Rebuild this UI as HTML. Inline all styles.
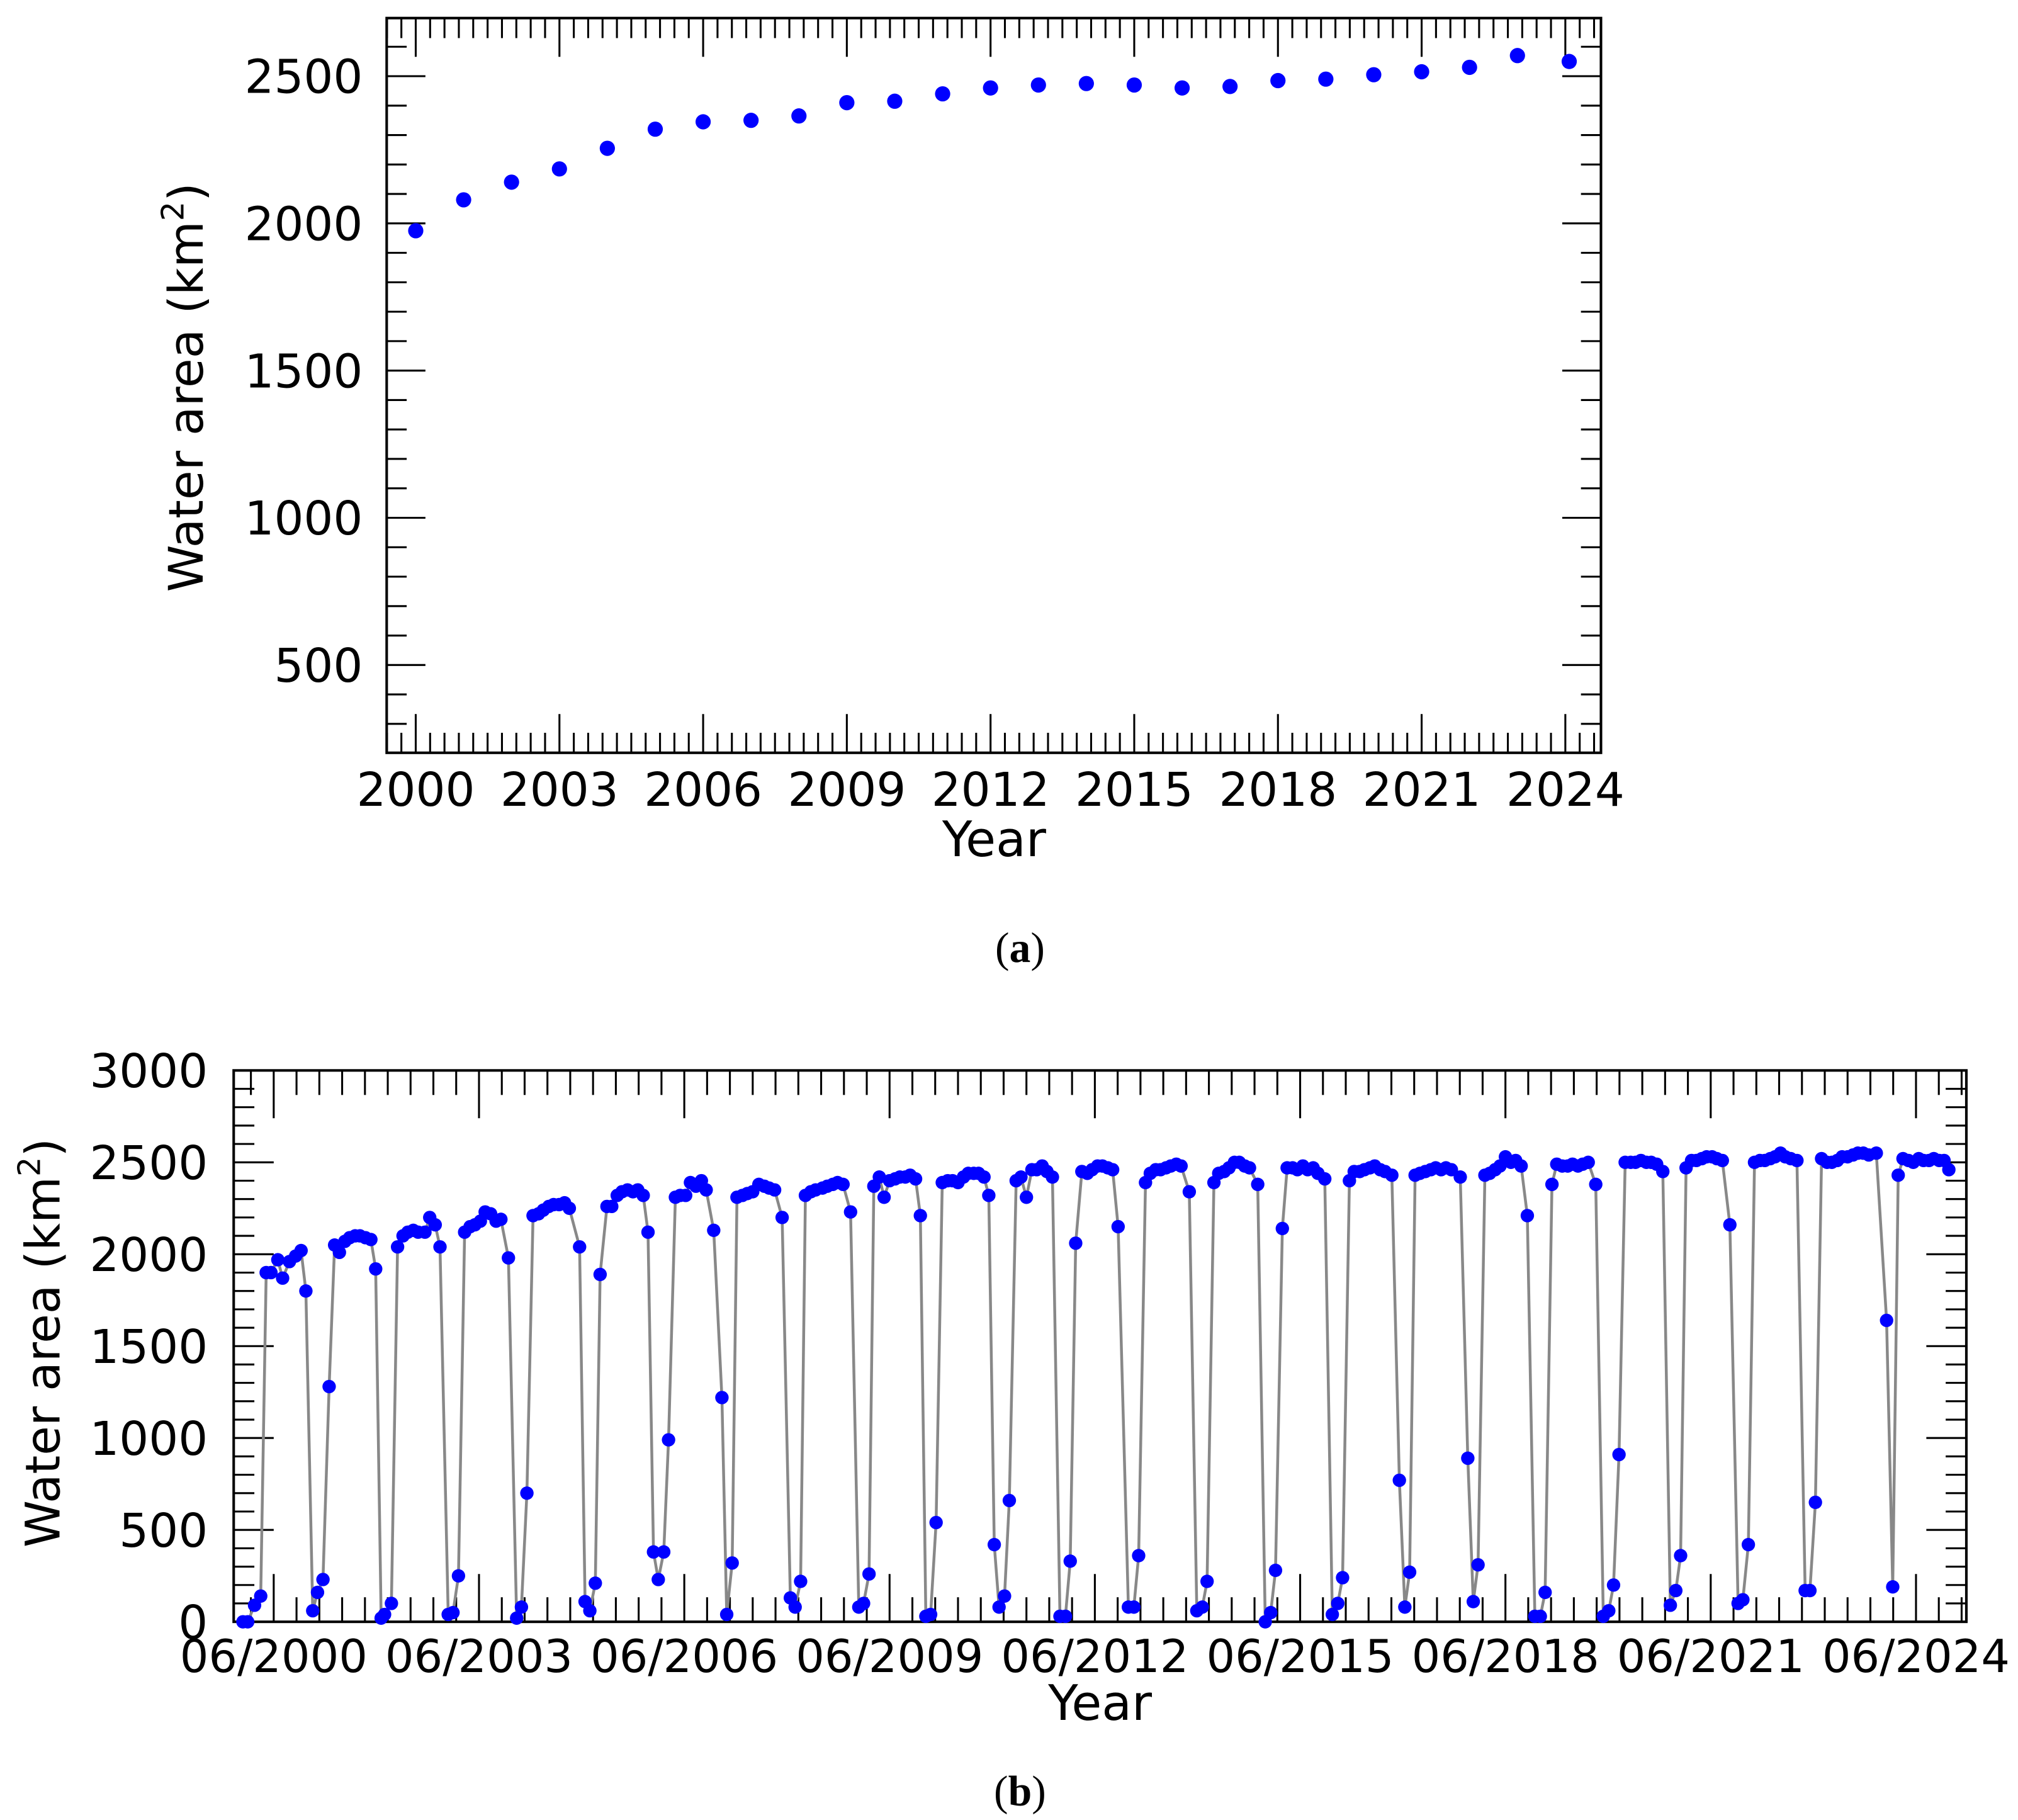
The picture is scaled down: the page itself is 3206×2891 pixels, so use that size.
<!DOCTYPE html>
<html><head><meta charset="utf-8"><style>
html,body{margin:0;padding:0;background:#fff;}
svg{display:block;font-family:"DejaVu Sans","Liberation Sans",sans-serif;}
</style></head><body>
<svg id="fig" width="3206" height="2891" viewBox="0 0 1563 1409.5" preserveAspectRatio="none" xmlns="http://www.w3.org/2000/svg">
<rect width="1563" height="1409.5" fill="#fff"/>
<g id="chartA"></g>
<g id="chartB"></g>
<text x="790" y="745" font-family="Liberation Serif, serif" font-size="33" text-anchor="middle">(<tspan font-weight="bold">a</tspan>)</text>
<text x="790" y="1398" font-family="Liberation Serif, serif" font-size="33" text-anchor="middle">(<tspan font-weight="bold">b</tspan>)</text>
</svg>
<script>
// ---- Chart A data ----
const yearsA = [2000,2001,2002,2003,2004,2005,2006,2007,2008,2009,2010,2011,2012,2013,2014,2015,2016,2017,2018,2019,2020,2021,2022,2023,2024];
const areaA = [1975,2080,2140,2185,2255,2320,2345,2350,2365,2410,2415,2440,2460,2470,2475,2470,2460,2465,2485,2490,2505,2515,2530,2570,2550];
const xTicksA = [2000,2003,2006,2009,2012,2015,2018,2021,2024];
const yTicksA = [500,1000,1500,2000,2500];

// ---- Chart B data (years since 2000, area km2) ----
const timeB = [-0.03,0.04,0.14,0.23,0.31,0.38,0.48,0.55,0.65,0.74,0.82,0.89,0.99,1.06,1.14,1.23,1.31,1.38,1.46,1.53,1.61,1.68,1.76,1.84,1.91,1.99,2.04,2.14,2.23,2.31,2.38,2.46,2.53,2.63,2.70,2.78,2.85,2.97,3.04,3.12,3.21,3.29,3.36,3.44,3.51,3.59,3.67,3.74,3.85,3.97,4.04,4.12,4.21,4.29,4.36,4.44,4.51,4.59,4.67,4.74,4.89,4.97,5.04,5.12,5.19,5.29,5.36,5.44,5.51,5.59,5.67,5.74,5.82,5.89,5.97,6.04,6.12,6.19,6.29,6.36,6.44,6.51,6.59,6.67,6.74,6.85,6.97,7.04,7.12,7.19,7.27,7.34,7.42,7.51,7.59,7.66,7.74,7.85,7.97,8.04,8.12,8.19,8.27,8.34,8.44,8.51,8.59,8.66,8.74,8.85,8.97,9.04,9.12,9.19,9.27,9.34,9.42,9.50,9.57,9.65,9.72,9.80,9.87,9.95,10.02,10.10,10.19,10.27,10.34,10.42,10.50,10.57,10.65,10.72,10.80,10.87,10.95,11.02,11.10,11.17,11.27,11.34,11.42,11.50,11.57,11.65,11.72,11.80,11.91,11.99,12.06,12.14,12.23,12.31,12.38,12.46,12.53,12.61,12.68,12.76,12.91,12.99,13.06,13.16,13.23,13.31,13.38,13.46,13.53,13.61,13.68,13.80,13.91,13.99,14.06,14.16,14.23,14.31,14.38,14.46,14.53,14.61,14.68,14.80,14.91,14.99,15.06,15.16,15.23,15.31,15.38,15.46,15.53,15.61,15.68,15.78,15.89,15.97,16.04,16.14,16.21,16.29,16.36,16.44,16.51,16.59,16.66,16.76,16.87,16.95,17.02,17.10,17.17,17.25,17.33,17.40,17.48,17.55,17.63,17.76,17.87,17.95,18.02,18.12,18.19,18.27,18.34,18.42,18.50,18.57,18.65,18.74,18.85,18.93,19.00,19.10,19.17,19.25,19.33,19.40,19.48,19.55,19.63,19.74,19.85,19.93,20.00,20.08,20.17,20.25,20.32,20.40,20.48,20.55,20.63,20.72,20.83,20.91,20.98,21.06,21.14,21.21,21.29,21.36,21.44,21.51,21.59,21.70,21.82,21.89,21.97,22.06,22.14,22.21,22.29,22.36,22.44,22.51,22.59,22.68,22.80,22.87,22.95,23.04,23.12,23.19,23.27,23.34,23.42,23.50,23.57,23.65,23.73,23.84,23.99,24.08,24.16,24.23,24.31,24.38,24.46,24.53,24.61,24.68,24.76,24.83,24.90];
const areaB = [0,0,90,140,1900,1900,1970,1870,1960,1990,2020,1800,60,160,230,1280,2050,2010,2070,2090,2100,2100,2090,2080,1920,20,40,100,2040,2100,2120,2130,2120,2120,2200,2160,2040,40,50,250,2120,2150,2160,2180,2230,2220,2180,2190,1980,20,80,700,2210,2220,2240,2260,2270,2270,2280,2250,2040,110,60,210,1890,2260,2260,2320,2340,2350,2340,2350,2320,2120,380,230,380,990,2310,2320,2320,2390,2370,2400,2350,2130,1220,40,320,2310,2320,2330,2340,2380,2370,2360,2350,2200,130,80,220,2320,2340,2350,2360,2370,2380,2390,2380,2230,80,100,260,2370,2420,2310,2400,2410,2420,2420,2430,2410,2210,30,40,540,2390,2400,2400,2390,2420,2440,2440,2440,2420,2320,420,80,140,660,2400,2420,2310,2460,2460,2480,2450,2420,30,30,330,2060,2450,2440,2460,2480,2480,2470,2460,2150,80,80,360,2390,2440,2460,2460,2470,2480,2490,2480,2340,60,80,220,2390,2440,2450,2470,2500,2500,2480,2470,2380,0,50,280,2140,2470,2470,2460,2480,2460,2470,2440,2410,40,100,240,2400,2450,2450,2460,2470,2480,2460,2450,2430,770,80,270,2430,2440,2450,2460,2470,2460,2470,2460,2420,890,110,310,2430,2440,2460,2480,2530,2500,2510,2480,2210,30,30,160,2380,2490,2480,2480,2490,2480,2490,2500,2380,30,60,200,910,2500,2500,2500,2510,2500,2500,2490,2450,90,170,360,2470,2510,2510,2520,2530,2530,2520,2510,2160,100,120,420,2500,2510,2510,2520,2530,2550,2530,2520,2510,170,170,650,2520,2500,2500,2510,2530,2530,2540,2550,2550,2540,2550,1640,190,2430,2520,2510,2500,2520,2510,2510,2520,2510,2510,2460];
const xTickLabelsB = ["06/2000","06/2003","06/2006","06/2009","06/2012","06/2015","06/2018","06/2021","06/2024"];
const xTickTimesB = [0.42,3.42,6.42,9.42,12.42,15.42,18.42,21.42,24.42];
const yTicksB = [0,500,1000,1500,2000,2500,3000];

const NS = "http://www.w3.org/2000/svg";
function mk(parent, tag, attrs){const e=document.createElementNS(NS,tag);for(const k in attrs)e.setAttribute(k,attrs[k]);parent.appendChild(e);return e;}

// ---------- Chart A ----------
(function(){
  const g=document.getElementById('chartA');
  const L=299.5,R=1240,T=14,B=583;
  const xA=y=>322+(y-2000)*37.1;
  const yA=v=>173-(v-2000)*0.228;
  const tk=mk(g,'g',{stroke:'#000','stroke-width':1.5});
  
  
  for(let y=1999.4;y<=2024.85;y+=0.3){
    const x=xA(y); if(x<L||x>R) continue;
    const major=xTicksA.some(t=>Math.abs(t-y)<0.01);
    const len=major?30:15.5;
    mk(tk,'line',{x1:x,x2:x,y1:B,y2:B-len});
    mk(tk,'line',{x1:x,x2:x,y1:T,y2:T+len});
  }
  for(let v=300;v<=2700;v+=100){
    const y=yA(v); if(y<T||y>B) continue;
    const major=v%500===0; const len=major?30:15.5;
    mk(tk,'line',{x1:L,x2:L+len,y1:y,y2:y});
    mk(tk,'line',{x1:R,x2:R-len,y1:y,y2:y});
  }
  const fr=mk(g,'rect',{x:L,y:T,width:R-L,height:B-T,fill:'none',stroke:'#000','stroke-width':2});
  
  
  xTicksA.forEach(t=>{
    const e=mk(g,'text',{x:xA(t),y:624,'font-size':36,'text-anchor':'middle'});
    
    
    e.textContent=t;
  });
  yTicksA.forEach(v=>{
    const e=mk(g,'text',{x:281,y:yA(v)+13,'font-size':36,'text-anchor':'end'});
    
    
    e.textContent=v;
  });
  const xt=mk(g,'text',{x:770,y:663,'font-size':38,'text-anchor':'middle'});
  
  
  xt.textContent='Year';
  const yt=mk(g,'text',{x:0,y:0,'font-size':37,'text-anchor':'middle',transform:'translate(157,300) rotate(-90)'});
  
  
  yt.innerHTML='Water area (km<tspan dy="-15" font-size="24">2</tspan><tspan dy="15">)</tspan>';
  yearsA.forEach((yr,i)=>{
    const c=mk(g,'circle',{cx:xA(yr)+(i===24?3:0),cy:yA(areaA[i]),r:5.9,fill:'#0000ff'});
    
    
  });
})();

// ---------- Chart B ----------
(function(){
  const g=document.getElementById('chartB');
  const L=181,R=1523,T=829,B=1256;
  const xB=t=>212+(t-0.42)*53;
  const yB=v=>B-v*(B-T)/3000;
  const tk=mk(g,'g',{stroke:'#000','stroke-width':1.5});
  
  
  for(let k=-1;k<=76;k++){
    const t=0.42+k/3; const x=xB(t); if(x<L||x>R) continue;
    const major=(k%9===0); const len=major?37:19;
    mk(tk,'line',{x1:x,x2:x,y1:B,y2:B-len});
    mk(tk,'line',{x1:x,x2:x,y1:T,y2:T+len});
  }
  for(let v=0;v<=3000;v+=100){
    const y=yB(v); const major=v%500===0; const len=major?31:16;
    mk(tk,'line',{x1:L,x2:L+len,y1:y,y2:y});
    mk(tk,'line',{x1:R,x2:R-len,y1:y,y2:y});
  }
  const fr=mk(g,'rect',{x:L,y:T,width:R-L,height:B-T,fill:'none',stroke:'#000','stroke-width':2});
  
  
  xTickTimesB.forEach((t,i)=>{
    const e=mk(g,'text',{x:xB(t),y:1295,'font-size':35,'text-anchor':'middle'});
    
    
    e.textContent=xTickLabelsB[i];
  });
  yTicksB.forEach(v=>{
    const e=mk(g,'text',{x:161,y:yB(v)+13,'font-size':36,'text-anchor':'end'});
    
    
    e.textContent=v;
  });
  const xt=mk(g,'text',{x:852,y:1332,'font-size':38,'text-anchor':'middle'});
  
  
  xt.textContent='Year';
  const yt=mk(g,'text',{x:0,y:0,'font-size':37,'text-anchor':'middle',transform:'translate(46,1040) rotate(-90)'});
  
  
  yt.innerHTML='Water area (km<tspan dy="-15" font-size="24">2</tspan><tspan dy="15">)</tspan>';
  const pts=timeB.map((t,i)=>xB(t).toFixed(2)+','+yB(areaB[i]).toFixed(2)).join(' ');
  const pl=mk(g,'polyline',{points:pts,fill:'none',stroke:'#888888','stroke-width':2.2});
  
  
  timeB.forEach((t,i)=>{
    const c=mk(g,'circle',{cx:xB(t),cy:yB(areaB[i]),r:5.2,fill:'#0000ff'});
    
    
  });
})();
</script>
</body></html>
